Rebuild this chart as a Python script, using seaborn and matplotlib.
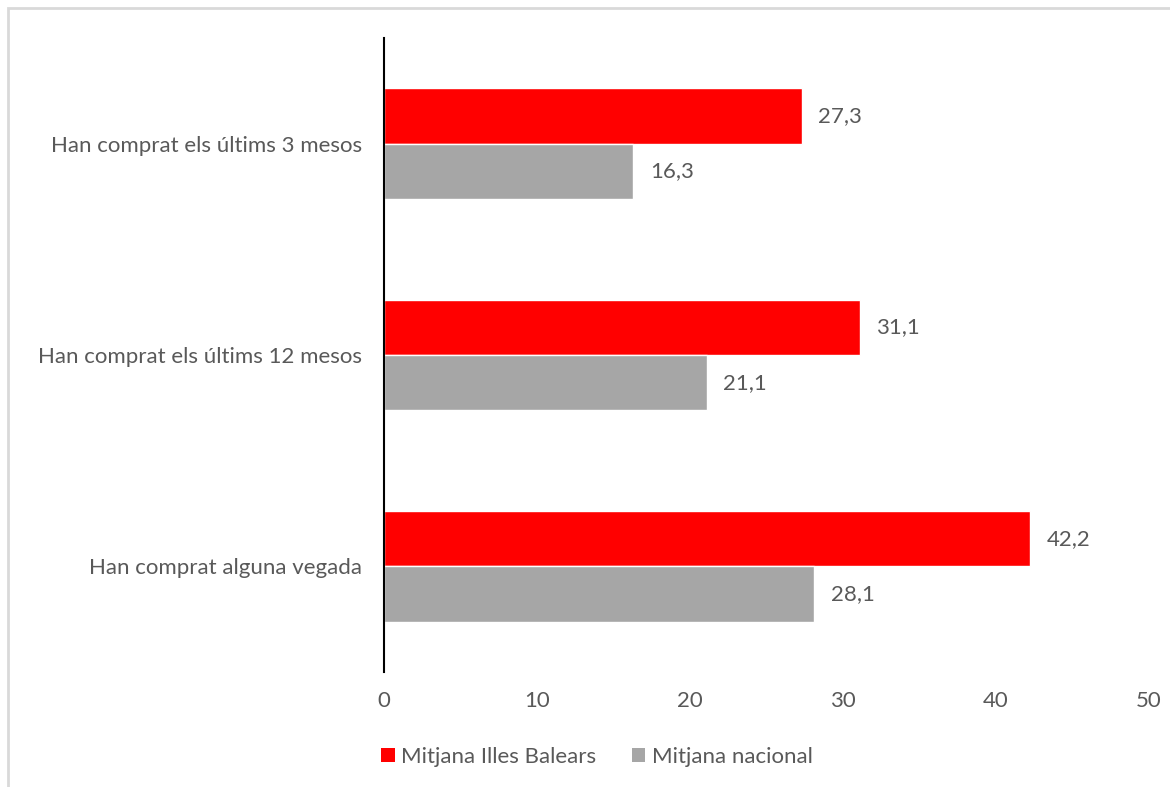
import pandas as pd
import matplotlib.pyplot as plt
import seaborn as sns
from matplotlib.patches import Rectangle, Patch

categories = ["Han comprat els últims 3 mesos",
              "Han comprat els últims 12 mesos",
              "Han comprat alguna vegada"]
balears = [27.3, 31.1, 42.2]
nacional = [16.3, 21.1, 28.1]
series = ["Mitjana Illes Balears", "Mitjana nacional"]
colors = ["#ff0000", "#a6a6a6"]

df = pd.DataFrame({
    "categoria": categories * 2,
    "valor": balears + nacional,
    "serie": [series[0]] * 3 + [series[1]] * 3,
})

sns.set_style("white")
plt.rcParams["font.family"] = ["Lato", "DejaVu Sans"]
txt = "#595959"
fs = 16

fig = plt.figure(figsize=(11.7, 7.87), dpi=100)
ax = fig.add_axes([384 / 1170, 1 - 672 / 787, (1149 - 384) / 1170, (672 - 38) / 787])

sns.barplot(data=df, y="categoria", x="valor", hue="serie", orient="h",
            palette=colors, width=0.525, ax=ax, legend=False, saturation=1)

for cont in ax.containers:
    labels = [f"{v:.1f}".replace(".", ",") for v in cont.datavalues]
    ax.bar_label(cont, labels=labels, padding=12, fontsize=fs, color=txt)

ax.set_xlim(0, 50)
ax.set_xticks(range(0, 51, 10))
ax.set_xlabel("")
ax.set_ylabel("")
ax.tick_params(axis="both", length=0, labelsize=fs, labelcolor=txt)
ax.tick_params(axis="x", pad=14)
ax.tick_params(axis="y", pad=16)
for s in ["top", "right", "bottom"]:
    ax.spines[s].set_visible(False)
ax.spines["left"].set_color("black")
ax.spines["left"].set_linewidth(1.5)

handles = [Patch(facecolor=c, edgecolor="none") for c in colors]
fig.legend(handles, series, loc="center", bbox_to_anchor=(597 / 1170, 1 - 757 / 787),
           ncol=2, frameon=False, fontsize=fs, labelcolor=txt,
           handlelength=0.6, handleheight=0.6, handletextpad=0.3, columnspacing=1.6)

fig.patches.append(Rectangle((8 / 1170, -0.02), 1.0, 1.02 - 8 / 787, transform=fig.transFigure,
                             fill=False, edgecolor="#d9d9d9", linewidth=2))

fig.savefig("out.png", dpi=100)
